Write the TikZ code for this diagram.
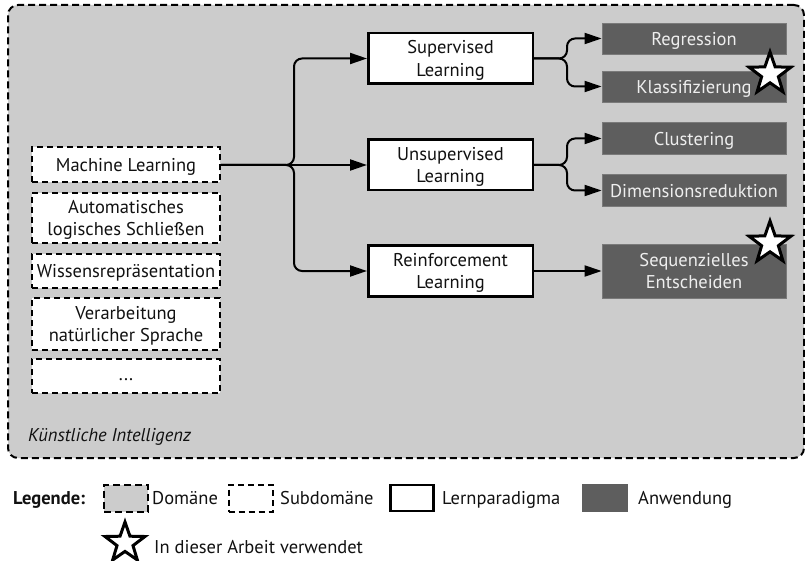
\documentclass[tikz,border=0pt]{standalone}
\usepackage{fontspec}
\setmainfont{PT Sans}
\usetikzlibrary{arrows.meta,shapes.geometric}
\definecolor{domgray}{HTML}{CCCCCC}
\definecolor{appgray}{HTML}{5E5E5E}
\definecolor{appedge}{HTML}{7A7A7A}
\definecolor{apptext}{HTML}{EEEEEE}
\definecolor{ink}{HTML}{111111}
\newcommand{\figfont}{\fontsize{18.5}{22.5}\selectfont}
\begin{document}
\begin{tikzpicture}[x=1pt,y=-1pt,
  font=\figfont, text=ink,
  lowtext/.style={text depth=-1.3pt},
  domainbox/.style={draw=black, line width=2pt, dash pattern=on 7pt off 4pt,
    fill=domgray, rounded corners=10pt, inner sep=0pt},
  subdom/.style={draw=black, line width=2pt, dash pattern=on 6pt off 4pt,
    fill=white, minimum width=188pt, align=center, inner sep=0pt, lowtext},
  paradigm/.style={draw=black, line width=2.5pt, fill=white,
    minimum width=164.5pt, minimum height=50.5pt, align=center, inner sep=0pt, lowtext},
  app/.style={draw=appedge, line width=0.8pt, fill=appgray, text=apptext,
    minimum width=184pt, align=center, inner sep=0pt, lowtext},
  conn/.style={line width=2pt, rounded corners=8pt,
    -{Triangle[length=17pt,width=11pt]}},
  usedstar/.style={star, star points=5, star point ratio=2.5, draw=black,
    line width=3pt, fill=white, minimum size=44pt, inner sep=0pt},
  legtext/.style={anchor=west, inner sep=0pt, lowtext},
  blank/.style={text depth=0pt},
]
\useasboundingbox (0,0) rectangle (805,561);

% domain frame
\node[domainbox, minimum width=796pt, minimum height=453pt] (ki) at (406,231.5) {};
\node[anchor=south west, inner sep=0pt, font=\figfont\itshape]
  (kilabel) at (28,446) {Künstliche Intelligenz};

% subdomains
\node[subdom, minimum height=35pt] (ml)   at (126,165)   {Machine Learning};
\node[subdom, minimum height=50pt] (als)  at (126,218)   {Automatisches\\logisches Schließen};
\node[subdom, minimum height=34pt] (wr)   at (126,271)   {Wissensrepräsentation};
\node[subdom, minimum height=52pt] (nlp)  at (126,324)   {Verarbeitung\\natürlicher Sprache};
\node[subdom, minimum height=34pt, text height=9pt] (more) at (126,376) {...};

% learning paradigms
\node[paradigm] (sup)   at (450.5,58.5) {Supervised\\Learning};
\node[paradigm] (unsup) at (450.5,165)  {Unsupervised\\Learning};
\node[paradigm] (rl)    at (450.5,271)  {Reinforcement\\Learning};

% applications
\node[app, minimum height=31pt] (reg) at (694,38.5)  {Regression};
\node[app, minimum height=31pt] (kla) at (694,86.5)  {Klassifizierung};
\node[app, minimum height=32pt] (clu) at (694,138.5) {Clustering};
\node[app, minimum height=32pt] (dim) at (694,190.5) {Dimensionsreduktion};
\node[app, minimum height=54pt] (seq) at (694,271)   {Sequenzielles\\Entscheiden};

% connectors
\draw[conn] (ml.east) -- ++(73,0) |- (sup.west);
\draw[conn] (ml.east) -- (unsup.west);
\draw[conn] (ml.east) -- ++(73,0) |- (rl.west);
\draw[conn] (sup.east) -- ++(33,0) |- (reg.west);
\draw[conn] (sup.east) -- ++(33,0) |- (kla.west);
\draw[conn] (unsup.east) -- ++(33,0) |- (clu.west);
\draw[conn] (unsup.east) -- ++(33,0) |- (dim.west);
\draw[conn] (rl.east) -- (seq.west);

% markers for the methods used
\node[usedstar] (star1) at (770,74) {};
\node[usedstar] (star2) at (770,243) {};

% legend
\node[legtext, font=\figfont\bfseries] (legtitle) at (13,498) {Legende:};
\node[domainbox, rounded corners=0pt, minimum width=44pt, minimum height=27pt] (lgdom) at (126,498) {};
\node[legtext] (lgdomt) at (152,498) {Domäne};
\node[subdom, blank, minimum width=44pt, minimum height=27pt] (lgsub) at (250.5,498) {};
\node[legtext] (lgsubt) at (280,498) {Subdomäne};
\node[paradigm, blank, minimum width=43pt, minimum height=26pt] (lgpar) at (412,498) {};
\node[legtext] (lgpart) at (442,498) {Lernparadigma};
\node[app, blank, draw=none, minimum width=46pt, minimum height=28pt] (lgapp) at (605,498) {};
\node[legtext] (lgappt) at (638,498) {Anwendung};
\node[usedstar, minimum size=42pt] (lgstar) at (125,543) {};
\node[legtext] (lgstart) at (154,547) {In dieser Arbeit verwendet};
\end{tikzpicture}
\end{document}
